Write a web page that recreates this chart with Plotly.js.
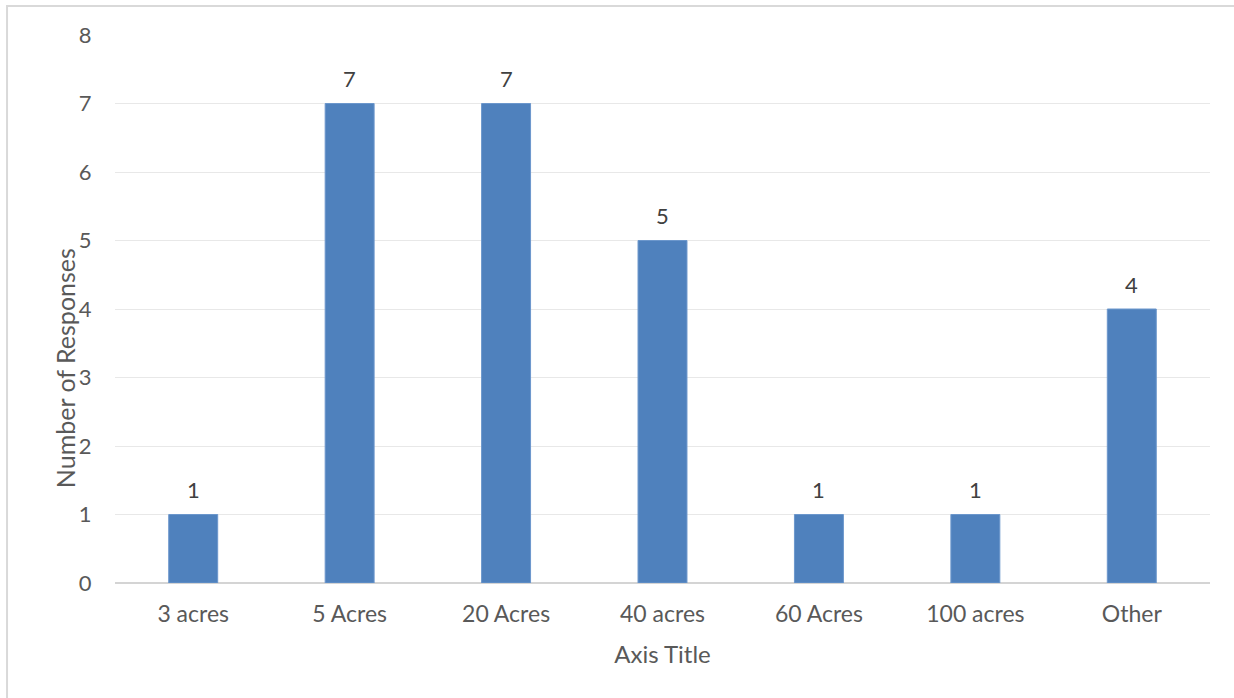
<!DOCTYPE html>
<html>
<head>
<meta charset="utf-8">
<script src="https://cdn.plot.ly/plotly-3.0.1.min.js"></script>
<style>html,body{margin:0;padding:0;background:#fff;}#chart{width:1234px;height:698px;}</style>
</head>
<body>
<div id="chart"></div>
<script>
var categories = ["3 acres", "5 Acres", "20 Acres", "40 acres", "60 Acres", "100 acres", "Other"];
var responses = [1, 7, 7, 5, 1, 1, 4];
var yTicks = [0, 1, 2, 3, 4, 5, 6, 7, 8];

var FONT = "Lato, 'Open Sans', sans-serif";

var trace = {
  type: "bar",
  x: categories,
  y: responses,
  marker: {color: "#4F81BD", line: {color: "#6C97CC", width: 1}},
  hoverinfo: "x+y"
};

var annotations = categories.map(function (c, i) {
  return {
    x: c, y: responses[i], xref: "x", yref: "y",
    text: String(responses[i]), showarrow: false,
    yanchor: "middle", yshift: 25,
    font: {family: FONT, size: 22, color: "#404040"}
  };
});

// y-axis title, placed like the original (offset below centre)
annotations.push({
  xref: "paper", yref: "paper", x: -0.0457, y: 0.392,
  xanchor: "center", yanchor: "middle", textangle: -90,
  text: "Number of Responses", showarrow: false,
  font: {family: FONT, size: 25, color: "#595959"}
});

var layout = {
  width: 1234, height: 698,
  margin: {l: 115, r: 24, t: 35, b: 115},
  paper_bgcolor: "#ffffff", plot_bgcolor: "#ffffff",
  bargap: 0.687,
  showlegend: false,
  font: {family: FONT, color: "#595959"},
  xaxis: {
    type: "category",
    tickfont: {family: FONT, size: 23, color: "#595959"},
    ticks: "outside", ticklen: 10, tickcolor: "rgba(0,0,0,0)",
    showgrid: false, showline: false, zeroline: false,
    title: {text: "Axis Title", font: {family: FONT, size: 24, color: "#595959"}, standoff: 20}
  },
  yaxis: {
    range: [0, 8],
    tickvals: yTicks,
    tickfont: {family: FONT, size: 22, color: "#595959"},
    ticks: "outside", ticklen: 18, tickcolor: "rgba(0,0,0,0)",
    gridcolor: "#E8E8E8", gridwidth: 1,
    zeroline: true, zerolinecolor: "#D4D4D4", zerolinewidth: 1.5,
    showline: false
  },
  annotations: annotations,
  shapes: [{
    type: "rect", xref: "paper", yref: "paper",
    x0: -0.0986, x1: 1.2, y0: -0.4, y1: 1.0529,
    line: {color: "#D9D9D9", width: 2}, fillcolor: "rgba(0,0,0,0)", layer: "below"
  }]
};

Plotly.newPlot("chart", [trace], layout, {displayModeBar: false, staticPlot: true});
</script>
</body>
</html>
